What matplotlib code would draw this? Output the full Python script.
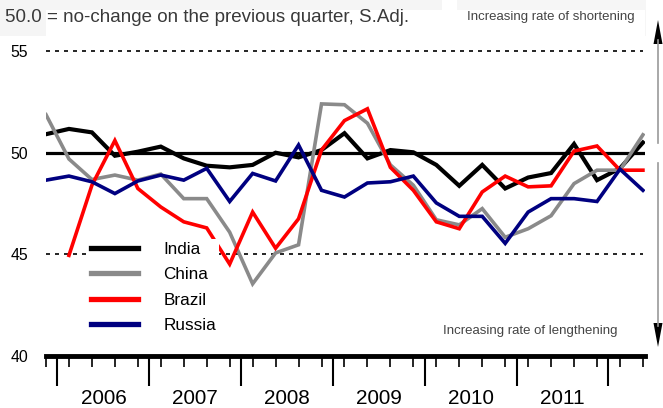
import numpy as np
import pandas as pd
import matplotlib
matplotlib.use("Agg")
import matplotlib.pyplot as plt
from matplotlib import font_manager
from matplotlib.patches import Rectangle, Polygon
from matplotlib.lines import Line2D

# quarterly survey readings, Q4 2005 .. Q2 2012
quarters = pd.period_range("2005Q4", "2012Q2", freq="Q")
india = [50.91, 51.17, 51.0, 49.85, 50.05, 50.3, 49.72, 49.36, 49.28, 49.4, 50.0, 49.77, 50.13, 50.96,
         49.72, 50.13, 50.02, 49.4, 48.37, 49.4, 48.24, 48.78, 49.0, 50.43, 48.65, 49.23, 50.5]
china = [51.87, 49.69, 48.68, 48.9, 48.65, 48.95, 47.74, 47.74, 46.09, 43.55, 45.07, 45.47, 52.4, 52.36,
         51.45, 49.4, 48.4, 46.7, 46.45, 47.25, 45.84, 46.26, 46.9, 48.48, 49.14, 49.14, 50.88]
brazil = [np.nan, 44.95, 48.4, 50.6, 48.24, 47.33, 46.6, 46.3, 44.52, 47.08, 45.3, 46.75, 50.13, 51.58,
          52.16, 49.28, 48.15, 46.6, 46.26, 48.07, 48.85, 48.32, 48.37, 50.08, 50.33, 49.14, 49.14]
russia = [48.65, 48.85, 48.57, 47.99, 48.61, 48.9, 48.65, 49.23, 47.6, 48.98, 48.61, 50.38, 48.15, 47.82,
          48.51, 48.57, 48.85, 47.53, 46.87, 46.87, 45.54, 47.08, 47.74, 47.74, 47.6, 49.19, 48.15]
series_names = ["India", "China", "Brazil", "Russia"]
series_colors = ["#000000", "#8a8a8a", "#ff0000", "#000080"]
y_ticks = [40, 45, 50, 55]
title = "50.0 = no-change on the previous quarter, S.Adj."
note_up = "Increasing rate of shortening"
note_down = "Increasing rate of lengthening"

# condensed face if we have it
try:
    font_manager.findfont("Liberation Sans Narrow", fallback_to_default=False)
    NARROW = "Liberation Sans Narrow"
    scale = 1.0
except ValueError:
    NARROW = "Liberation Sans"
    scale = 0.88
plt.rcParams["font.family"] = [NARROW, "DejaVu Sans"]

W, H = 663, 408


def fx(x):
    return x / W


def fy(y):
    return 1 - y / H


fig = plt.figure(figsize=(W / 100, H / 100), dpi=100)
ax = fig.add_axes([fx(46), fy(356), 599 / W, 345.6 / H])

x = np.arange(len(quarters))
data = [india, china, brazil, russia]
widths = [3.0, 2.6, 2.6, 2.6]
lines = []
for vals, name, col, lw in zip(data, series_names, series_colors, widths):
    ln, = ax.plot(x, vals, color=col, lw=lw, label=name, solid_joinstyle="miter", zorder=3)
    lines.append(ln)

# reference lines
ax.axhline(50, color="black", lw=2.3, zorder=2)
for lvl in (45, 55):
    ax.axhline(lvl, color="black", lw=1.2, ls=(0, (2.4, 3)), xmax=0.997, zorder=1)

ax.set_xlim(0, 26.09)
ax.set_ylim(40, 57)

# x axis: quarter ticks, long ticks at year boundaries
q1 = np.array([p.quarter == 1 for p in quarters])
boundaries = x[q1] - 0.5
ax.set_xticks(boundaries)
ax.set_xticks(x, minor=True)
ax.tick_params(axis="x", which="major", length=21.6, width=1.5, labelbottom=False)
ax.tick_params(axis="x", which="minor", length=8, width=1.2)
years = sorted(set(p.year for p in quarters))
for yr in years:
    pos = x[[p.year == yr for p in quarters]]
    if len(pos) < 4:
        continue
    ax.annotate(str(yr), xy=(pos.mean(), 0), xycoords=("data", "axes fraction"),
                xytext=(0, -30.5), textcoords="offset points",
                ha="center", va="center", fontsize=17 * scale)

ax.set_yticks(y_ticks)
ax.set_yticklabels([str(v) for v in y_ticks], fontsize=13 * scale)
ax.tick_params(axis="y", length=0, pad=13)

for s in ("left", "right", "top"):
    ax.spines[s].set_visible(False)
ax.spines["bottom"].set_linewidth(3.5)

leg = ax.legend(handles=lines, loc="upper left", bbox_to_anchor=(fx(88), fy(239)),
                bbox_transform=fig.transFigure, frameon=True, facecolor="white",
                edgecolor="none", framealpha=1, fancybox=False,
                prop={"family": NARROW, "size": 14 * scale}, handlelength=2.75,
                handletextpad=1.5, labelspacing=0.62, borderpad=0.15, borderaxespad=0)
for l in leg.get_lines():
    l.set_linewidth(3.8)

# header boxes and notes
fig.add_artist(Rectangle((fx(0), fy(36)), 442 / W, 36 / H, transform=fig.transFigure,
                         facecolor="#f5f5f5", edgecolor="none", zorder=0))
fig.text(fx(5), fy(18), title, fontsize=13.5, family="Liberation Sans", color="#3a3a3a", va="center")
fig.add_artist(Rectangle((fx(457), fy(36)), 189 / W, 36 / H, transform=fig.transFigure,
                         facecolor="#f6f6f6", edgecolor="none", zorder=0))
fig.text(fx(551), fy(17), note_up, fontsize=9.5, family="Liberation Sans", color="#444444",
         ha="center", va="center")
fig.add_artist(Rectangle((fx(433), fy(348)), 200 / W, 33 / H, transform=fig.transFigure,
                         facecolor="#f6f6f6", edgecolor="none", zorder=0))
fig.text(fx(530), fy(331), note_down, fontsize=9.5, family="Liberation Sans", color="#444444",
         ha="center", va="center")

# arrows on the right
ax_x = 658
fig.add_artist(Line2D([fx(ax_x)] * 2, [fy(40), fy(143)], color="#999999", lw=1.2,
                      transform=fig.transFigure))
fig.add_artist(Polygon([(fx(ax_x), fy(20)), (fx(ax_x - 4.5), fy(44)), (fx(ax_x + 4.5), fy(44))],
                       closed=True, transform=fig.transFigure, facecolor="black", edgecolor="none"))
fig.add_artist(Line2D([fx(ax_x)] * 2, [fy(163), fy(326)], color="#999999", lw=1.2,
                      transform=fig.transFigure))
fig.add_artist(Polygon([(fx(ax_x), fy(347)), (fx(ax_x - 4.5), fy(323)), (fx(ax_x + 4.5), fy(323))],
                       closed=True, transform=fig.transFigure, facecolor="black", edgecolor="none"))

fig.savefig("out.png", dpi=100)
